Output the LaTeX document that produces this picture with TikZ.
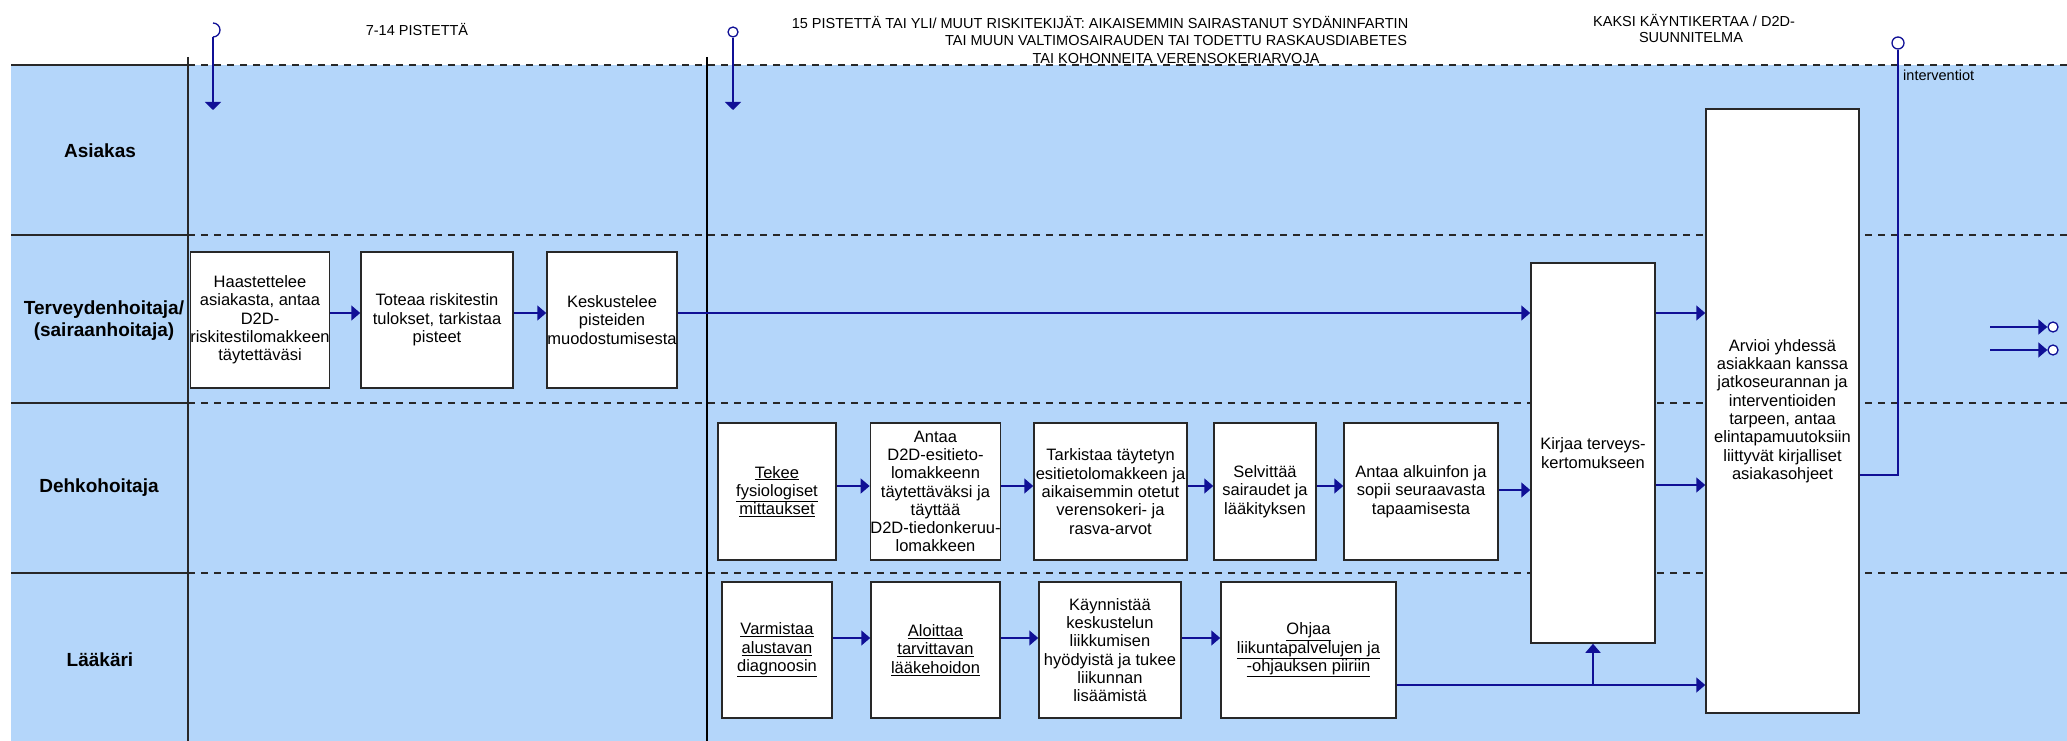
\documentclass[tikz,border=0pt]{standalone}
\usepackage{fontspec}
\setmainfont{Liberation Sans}
\usetikzlibrary{arrows.meta,calc}
\definecolor{lanebg}{RGB}{180,214,250}
\definecolor{navy}{RGB}{16,16,150}
\definecolor{edgegray}{RGB}{40,40,40}
\begin{document}
\begin{tikzpicture}[x=1pt,y=-1pt,
  procbox/.style={draw=edgegray, line width=1.5pt, fill=white, align=center, inner sep=0pt,
    font=\fontsize{16.5}{18.3}\selectfont},
  flow/.style={draw=navy, line width=1.6pt, -{Triangle[length=9pt,width=15pt]}},
  plainline/.style={draw=navy, line width=1.6pt},
  lanelabel/.style={font=\bfseries\fontsize{19}{22}\selectfont, align=center},
  hdr/.style={font=\fontsize{14.5}{18}\selectfont, inner sep=0pt},
  sepline/.style={draw=edgegray, line width=1.4pt, dash pattern=on 7pt off 6pt},
  solidsep/.style={draw=edgegray, line width=1.4pt},
  endcirc/.style={circle, draw=navy, fill=white, line width=1.3pt, inner sep=0pt}
]
\useasboundingbox (0,0) rectangle (2067,741);
% background
\fill[lanebg] (11,65) rectangle (2067,741);
% lane separators
\foreach \yy in {65,235,403,573}{
  \draw[solidsep] (11,\yy) -- (188,\yy);
  \draw[sepline] (188,\yy) -- (2067,\yy);
}
\draw[solidsep] (188,57) -- (188,741);
\draw[draw=black, line width=1.4pt] (707,57) -- (707,741);

% lane labels
\node[lanelabel] (lA) at (100,151) {Asiakas};
\node[lanelabel] (lT) at (104,321) {Terveydenhoitaja/\\(sairaanhoitaja)};
\node[lanelabel] (lD) at (99,488) {Dehkohoitaja};
\node[lanelabel] (lL) at (100,660) {Lääkäri};

% header texts
\node[hdr] (h1) at (417,30) {7-14 PISTETTÄ};
\node[hdr] (h2a) at (1100,23) {15 PISTETTÄ TAI YLI/ MUUT RISKITEKIJÄT: AIKAISEMMIN SAIRASTANUT SYDÄNINFARTIN};
\node[hdr] (h2b) at (1176,41) {TAI MUUN VALTIMOSAIRAUDEN TAI TODETTU RASKAUSDIABETES};
\node[hdr] (h2c) at (1176,59) {TAI KOHONNEITA VERENSOKERIARVOJA};
\node[hdr] (h3a) at (1694,21) {KAKSI KÄYNTIKERTAA / D2D-};
\node[hdr] (h3b) at (1691,38) {SUUNNITELMA};
\node[hdr, anchor=west] (iv) at (1903,75) {interventiot};

% row coordinates
\coordinate (r2) at (0,313);
\coordinate (r3) at (0,486);
\coordinate (r3b) at (0,490);
\coordinate (r3c) at (0,485);
\coordinate (r4) at (0,638);
\coordinate (r4b) at (0,685);
\coordinate (r475) at (0,475);

% lane 2 boxes
\node[procbox, minimum width=136pt, minimum height=136pt] (A) at (260,320)
  {Haastettelee\\asiakasta, antaa\\D2D-\\riskitestilomakkeen\\täytettäväsi};
\node[procbox, minimum width=152pt, minimum height=136pt] (B) at (437,320)
  {Toteaa riskitestin\\tulokset, tarkistaa\\pisteet};
\node[procbox, minimum width=130pt, minimum height=136pt] (C) at (612,320)
  {Keskustelee\\pisteiden\\muodostumisesta};

% lane 3 boxes
\node[procbox, minimum width=118pt, minimum height=137pt] (D1) at (777,491.5)
  {\underline{Tekee}\\\underline{fysiologiset}\\\underline{mittaukset}};
\node[procbox, minimum width=129pt, minimum height=137pt] (D2) at (935.5,491.5)
  {Antaa\\D2D-esitieto-\\lomakkeenn\\täytettäväksi ja\\täyttää\\D2D-tiedonkeruu-\\lomakkeen};
\node[procbox, minimum width=153pt, minimum height=137pt] (D3) at (1110.5,491.5)
  {Tarkistaa täytetyn\\esitietolomakkeen ja\\aikaisemmin otetut\\verensokeri- ja\\rasva-arvot};
\node[procbox, minimum width=102pt, minimum height=137pt] (D4) at (1265,491.5)
  {Selvittää\\sairaudet ja\\lääkityksen};
\node[procbox, minimum width=154pt, minimum height=137pt] (D5) at (1421,491.5)
  {Antaa alkuinfon ja\\sopii seuraavasta\\tapaamisesta};

% lane 4 boxes
\node[procbox, minimum width=110pt, minimum height=136pt] (L1) at (777,650)
  {\underline{Varmistaa}\\\underline{alustavan}\\\underline{diagnoosin}};
\node[procbox, minimum width=129pt, minimum height=136pt] (L2) at (935.5,650)
  {\underline{Aloittaa}\\\underline{tarvittavan}\\\underline{lääkehoidon}};
\node[procbox, minimum width=142pt, minimum height=136pt] (L3) at (1110,650)
  {Käynnistää\\keskustelun\\liikkumisen\\hyödyistä ja tukee\\liikunnan\\lisäämistä};
\node[procbox, minimum width=175pt, minimum height=136pt] (L4) at (1308.5,650)
  {\underline{Ohjaa}\\\underline{liikuntapalvelujen ja}\\\underline{-ohjauksen piiriin}};

% tall boxes
\node[procbox, minimum width=124pt, minimum height=380pt] (K) at (1593,453)
  {Kirjaa terveys-\\kertomukseen};
\node[procbox, minimum width=153pt, minimum height=604pt] (V) at (1782.5,411)
  {Arvioi yhdessä\\asiakkaan kanssa\\jatkoseurannan ja\\interventioiden\\tarpeen, antaa\\elintapamuutoksiin\\liittyvät kirjalliset\\asiakasohjeet};

% top markers
\coordinate (m1top) at (213,23);
\coordinate (m1bot) at (213,37);
\coordinate (m1tip) at (213,110);
\draw[plainline, line width=1.3pt] (m1top) arc[start angle=-90, end angle=90, radius=7];
\draw[flow, -{Triangle[length=8pt,width=16pt]}] (m1bot) -- (m1tip);

\node[endcirc, minimum size=10pt] (c2) at (733,32) {};
\coordinate (m2tip) at (733,110);
\draw[flow, -{Triangle[length=8pt,width=16pt]}] (c2.south) -- (m2tip);

\node[endcirc, minimum size=12pt] (c3) at (1898,43) {};

% lane 2 flows
\draw[flow] (A.east |- r2) -- (B.west |- r2);
\draw[flow] (B.east |- r2) -- (C.west |- r2);
\draw[flow] (C.east |- r2) -- (K.west |- r2);
\draw[flow] (K.east |- r2) -- (V.west |- r2);

% lane 3 flows
\draw[flow] (D1.east |- r3) -- (D2.west |- r3);
\draw[flow] (D2.east |- r3) -- (D3.west |- r3);
\draw[flow] (D3.east |- r3) -- (D4.west |- r3);
\draw[flow] (D4.east |- r3) -- (D5.west |- r3);
\draw[flow] (D5.east |- r3b) -- (K.west |- r3b);
\draw[flow] (K.east |- r3c) -- (V.west |- r3c);

% lane 4 flows
\draw[flow] (L1.east |- r4) -- (L2.west |- r4);
\draw[flow] (L2.east |- r4) -- (L3.west |- r4);
\draw[flow] (L3.east |- r4) -- (L4.west |- r4);
\draw[flow] (L4.east |- r4b) -- (V.west |- r4b);
\draw[flow] (K.south |- r4b) -- (K.south);

% interventiot
\draw[plainline] (V.east |- r475) -| (c3.south);

% outgoing connectors on the right
\node[endcirc, minimum size=10pt] (o1) at (2053,327) {};
\node[endcirc, minimum size=10pt] (o2) at (2053,350) {};
\coordinate (s1) at (1990,327);
\coordinate (s2) at (1990,350);
\draw[flow] (s1) -- (o1.west);
\draw[flow] (s2) -- (o2.west);
\end{tikzpicture}
\end{document}
